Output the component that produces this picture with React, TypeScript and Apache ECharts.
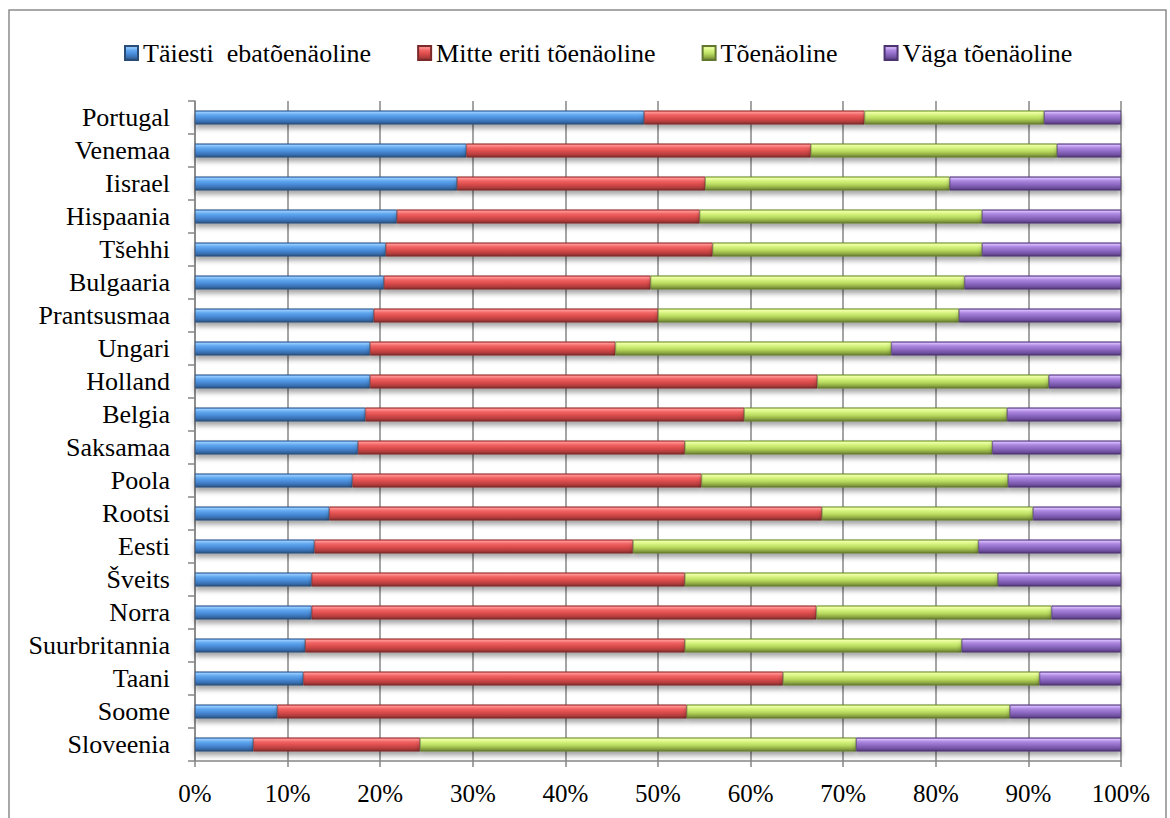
import React, { useEffect, useRef } from "react";
import * as echarts from "echarts";

const categories = [
  "Portugal", "Venemaa", "Iisrael", "Hispaania", "Tšehhi", "Bulgaaria", "Prantsusmaa",
  "Ungari", "Holland", "Belgia", "Saksamaa", "Poola", "Rootsi", "Eesti", "Šveits",
  "Norra", "Suurbritannia", "Taani", "Soome", "Sloveenia",
];

const seriesNames = ["Täiesti  ebatõenäoline", "Mitte eriti tõenäoline", "Tõenäoline", "Väga tõenäoline"];

const taiestiEbatoenaoline = [48.5, 29.3, 28.3, 21.8, 20.6, 20.4, 19.3, 18.9, 18.9, 18.4, 17.6, 17.0, 14.5, 12.9, 12.6, 12.6, 11.9, 11.7, 8.9, 6.3];
const mitteEritiToenaoline = [23.8, 37.2, 26.8, 32.7, 35.3, 28.8, 30.7, 26.5, 48.3, 40.9, 35.3, 37.7, 53.2, 34.4, 40.3, 54.5, 41.0, 51.8, 44.2, 18.0];
const toenaoline = [19.4, 26.6, 26.4, 30.5, 29.1, 33.9, 32.5, 29.8, 25.0, 28.4, 33.2, 33.1, 22.8, 37.3, 33.8, 25.4, 29.9, 27.7, 34.9, 47.1];
const vagaToenaoline = [8.3, 6.9, 18.5, 15.0, 15.0, 16.9, 17.5, 24.8, 7.8, 12.3, 13.9, 12.2, 9.5, 15.4, 13.3, 7.5, 17.2, 8.8, 12.0, 28.6];

const xTickLabels = ["0%", "10%", "20%", "30%", "40%", "50%", "60%", "70%", "80%", "90%", "100%"];

const palettes = [
  ["#3a72b8", "#92caff", "#62a8f0", "#4a8edb", "#386eae", "#2a4d78"],
  ["#c03838", "#ff9292", "#f26464", "#dc4c4c", "#b23c3c", "#7a2a2a"],
  ["#8cb83c", "#f0ffa6", "#d6f480", "#bad c60".replace(" ", ""), "#8ea842", "#62782e"],
  ["#6a4a9a", "#d4b6fa", "#ac88e0", "#906cc6", "#7050a0", "#4c3470"],
];

function grad(p: string[]) {
  return new echarts.graphic.LinearGradient(0, 0, 0, 1, [
    { offset: 0, color: p[0] },
    { offset: 0.12, color: p[1] },
    { offset: 0.3, color: p[2] },
    { offset: 0.55, color: p[3] },
    { offset: 0.82, color: p[4] },
    { offset: 1, color: p[5] },
  ]);
}

export default function App() {
  const ref = useRef<HTMLDivElement>(null);
  useEffect(() => {
    if (!ref.current) return;
    const chart = echarts.init(ref.current, undefined, { renderer: "svg" });
    const dataSets = [taiestiEbatoenaoline, mitteEritiToenaoline, toenaoline, vagaToenaoline];
    const font = "Liberation Serif";
    chart.setOption({
      animation: false,
      backgroundColor: "#ffffff",
      textStyle: { fontFamily: font, color: "#000" },
      graphic: [
        {
          type: "rect",
          shape: { x: 9, y: 10, width: 1157, height: 830 },
          style: { fill: "none", stroke: "#8c8c8c", lineWidth: 1.5 },
          silent: true,
        },
      ],
      legend: {
        top: 35,
        left: 119,
        itemWidth: 13,
        itemHeight: 14,
        itemGap: 46,
        icon: "rect",
        textStyle: { fontFamily: font, fontSize: 26, color: "#000" },
        data: seriesNames.map((n) => ({ name: n, textStyle: { fontFamily: font, fontSize: 26, color: "#000" } })),
      },
      grid: { left: 195, right: 49, top: 101, bottom: 57, containLabel: false },
      xAxis: {
        type: "value",
        min: 0,
        max: 100,
        interval: 10,
        axisLine: { show: true, lineStyle: { color: "#868686", width: 1.5 } },
        axisTick: { show: true, length: 6, lineStyle: { color: "#868686", width: 1.5 } },
        splitLine: { show: true, lineStyle: { color: "#868686", width: 1.5 } },
        axisLabel: {
          fontFamily: font,
          fontSize: 25,
          color: "#000",
          margin: 20,
          formatter: (v: number) => xTickLabels[Math.round(v / 10)],
        },
      },
      yAxis: {
        type: "category",
        inverse: true,
        data: categories,
        axisLine: { show: true, lineStyle: { color: "#868686", width: 1.5 } },
        axisTick: { show: true, length: 7, interval: 0, lineStyle: { color: "#868686", width: 1.5 } },
        axisLabel: { fontFamily: font, fontSize: 26, color: "#000", margin: 25, interval: 0 },
        splitLine: { show: false },
      },
      series: seriesNames.map((name, i) => ({
        name,
        type: "bar",
        stack: "total",
        barWidth: 14,
        data: dataSets[i],
        itemStyle: {
          color: grad(palettes[i]),
          borderColor: palettes[i][5],
          borderWidth: 0.6,
          shadowColor: "rgba(0,0,0,0.35)",
          shadowBlur: 5,
          shadowOffsetY: 4,
        },
      })),
    });
    return () => chart.dispose();
  }, []);
  return (
    <div
      ref={ref}
      style={{ position: "fixed", left: 0, top: 0, width: 1170, height: 818 }}
    />
  );
}
